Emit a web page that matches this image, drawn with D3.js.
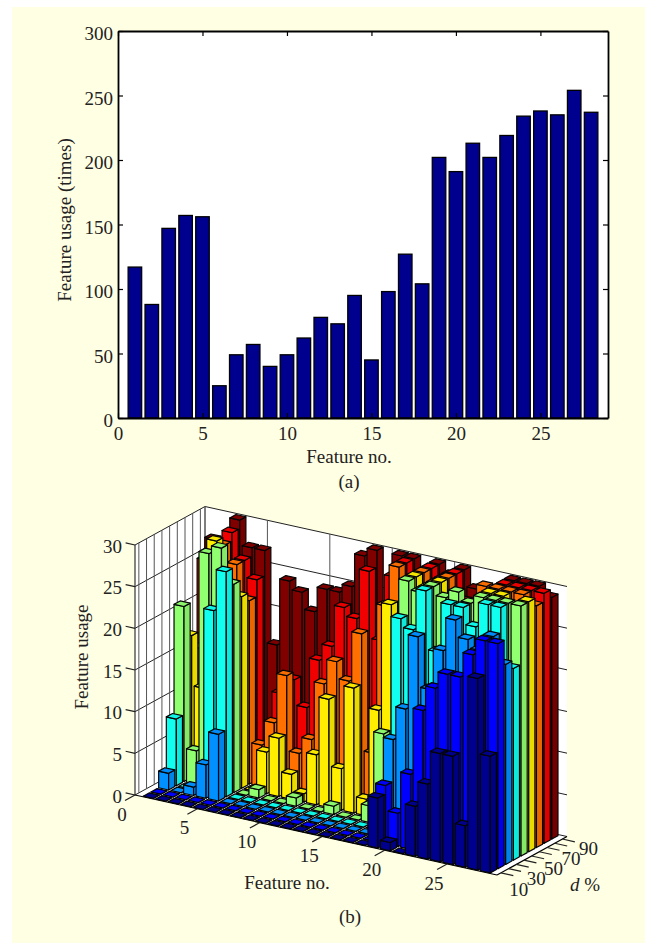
<!DOCTYPE html>
<meta charset="utf-8">
<style>
  html, body { margin: 0; padding: 0; background: #fff; }
  svg { display: block; }
  text { font-family: "Liberation Serif", serif; font-size: 19px; fill: #222; }
</style>
<body>
<script src="https://d3js.org/d3.v7.min.js"></script>
<script>
// total usage per feature, panel (a)
var usage = [117, 88, 147, 157, 156, 25, 49, 57, 40, 49, 62, 78, 73, 95, 45, 98, 127, 104, 202, 191, 213, 202, 219, 234, 238, 235, 254, 237];

// usage per feature for each d %, panel (b)
var dLevels = [10, 20, 30, 40, 50, 60, 70, 80, 90];
var d10 = [0, 0, 0, 0, 0, 0, 0, 0, 0, 0, 0, 0, 0, 0, 0, 0, 0, 0, 6, 1, 0, 6, 9, 13, 13, 5, 23, 14];
var d20 = [0, 0, 0, 0, 0, 0, 0, 0, 0, 0, 0, 0, 0, 0, 0, 0, 0, 0, 7, 4, 9, 17, 20, 22, 22, 25, 27, 27];
var d30 = [2, 0, 1, 4, 8, 0, 0, 0, 0, 0, 0, 0, 0, 0, 0, 0, 0, 0, 12, 16, 25, 19, 24, 28, 26, 25, 27, 24];
var d40 = [8, 0, 0, 22, 27, 0, 0, 0, 0, 0, 0, 0, 0, 0, 0, 0, 0, 0, 26, 25, 30, 23, 29, 29, 27, 30, 30, 23];
var d50 = [21, 4, 28, 29, 25, 0, 1, 0, 0, 1, 0, 0, 1, 0, 0, 2, 11, 0, 30, 29, 30, 29, 30, 29, 30, 30, 30, 30];
var d60 = [17, 11, 29, 23, 23, 0, 5, 7, 3, 1, 6, 13, 5, 15, 2, 13, 26, 22, 30, 29, 30, 27, 27, 28, 30, 30, 29, 30];
var d70 = [15, 25, 28, 26, 22, 5, 8, 14, 5, 7, 14, 17, 15, 21, 7, 25, 30, 28, 30, 29, 30, 27, 27, 30, 30, 30, 30, 29];
var d80 = [25, 24, 29, 26, 24, 4, 11, 13, 10, 16, 18, 23, 22, 28, 20, 28, 30, 27, 30, 29, 30, 27, 27, 27, 30, 30, 30, 30];
var d90 = [27, 24, 30, 27, 27, 16, 24, 23, 21, 24, 24, 25, 29, 30, 16, 30, 30, 27, 30, 29, 30, 28, 26, 28, 30, 30, 30, 29];
var rows = [d10, d20, d30, d40, d50, d60, d70, d80, d90];

var featureTicks = [0, 5, 10, 15, 20, 25];
var usageTicks = [0, 50, 100, 150, 200, 250, 300];
var zTicks = [0, 5, 10, 15, 20, 25, 30];
var dTickLabels = ["10", "", "30", "", "50", "", "70", "", "90"];
var jet = ["#00008f", "#0000ff", "#0090ff", "#10ffef", "#90ff70", "#ffee00", "#ff7000", "#f00000", "#800000"];

var svg = d3.select("body").append("svg").attr("width", 645).attr("height", 943);
svg.append("rect").attr("x", 12).attr("y", 7).attr("width", 633).attr("height", 936).attr("fill", "#ffffe3");

//********* panel (a) ****************
var x = d3.scaleLinear().domain([0, 29]).range([118, 608]);
var y = d3.scaleLinear().domain([0, 300]).range([418, 31]);

svg.append("rect").attr("x", 118).attr("y", 31).attr("width", 490).attr("height", 387).attr("fill", "#fff");

svg.append("g").selectAll("rect")
  .data(usage)
  .enter().append("rect")
  .attr("x", function(d, i) { return x(i + 1 - 0.4); })
  .attr("y", function(d) { return y(d); })
  .attr("width", x(0.8) - x(0))
  .attr("height", function(d) { return y(0) - y(d); })
  .attr("fill", "#00008f")
  .attr("stroke", "#000")
  .attr("stroke-width", 1.3);

function styleAxis(g) {
  g.select(".domain").attr("stroke", "#000").attr("stroke-width", 1.8);
  g.selectAll(".tick line").attr("stroke", "#000").attr("stroke-width", 1.2);
  g.selectAll("text").style("font-size", "19px").style("font-family", "Liberation Serif").attr("fill", "#222");
}

svg.append("g").attr("transform", "translate(0,418)")
  .call(d3.axisBottom(x).tickValues(featureTicks).tickFormat(d3.format("d")).tickSizeInner(-5).tickSizeOuter(0).tickPadding(9))
  .call(styleAxis);
svg.append("g").attr("transform", "translate(0,31)")
  .call(d3.axisTop(x).tickValues(featureTicks).tickFormat("").tickSizeInner(-5).tickSizeOuter(0))
  .call(styleAxis);
svg.append("g").attr("transform", "translate(118,0)")
  .call(d3.axisLeft(y).tickValues(usageTicks).tickFormat(d3.format("d")).tickSizeInner(-5).tickSizeOuter(0).tickPadding(5))
  .call(styleAxis)
  .selectAll("text").attr("dy", "0.45em");
svg.append("g").attr("transform", "translate(608,0)")
  .call(d3.axisRight(y).tickValues(usageTicks).tickFormat("").tickSizeInner(-5).tickSizeOuter(0))
  .call(styleAxis);

svg.append("text").attr("x", 349).attr("y", 463).attr("text-anchor", "middle").text("Feature no.");
svg.append("text").attr("x", 349).attr("y", 488).attr("text-anchor", "middle").text("(a)");
svg.append("text").attr("transform", "translate(71,220) rotate(-90)").attr("text-anchor", "middle").text("Feature usage (times)");

//********* panel (b) ****************
// oblique projection: each data axis gets a screen x scale and a screen y scale
var originX = 135, originY = 795;
var xToSx = d3.scaleLinear().domain([0, 29]).range([0, 362]);
var xToSy = d3.scaleLinear().domain([0, 29]).range([0, 80]);
var yToSx = d3.scaleLinear().domain([0.5, 9.6]).range([0, 70]);
var yToSy = d3.scaleLinear().domain([0.5, 9.6]).range([0, -38.5]);
var zToSy = d3.scaleLinear().domain([0, 30]).range([0, 250]);

function project(px, py, pz) {
  return [originX + xToSx(px) + yToSx(py), originY + xToSy(px) + yToSy(py) - zToSy(pz)];
}
function poly(pts) {
  return "M" + pts.map(function(p) { return project(p[0], p[1], p[2]).join(","); }).join("L") + "Z";
}
function seg(g, a, b, stroke, w) {
  var p = project(a[0], a[1], a[2]), q = project(b[0], b[1], b[2]);
  g.append("line").attr("x1", p[0]).attr("y1", p[1]).attr("x2", q[0]).attr("y2", q[1])
    .attr("stroke", stroke).attr("stroke-width", w);
}

var X0 = 0, X1 = 29, Y0 = 0.5, Y1 = 9.6, Z1 = 30;
var walls = svg.append("g");
walls.append("path").attr("d", poly([[X0, Y0, 0], [X0, Y1, 0], [X0, Y1, Z1], [X0, Y0, Z1]])).attr("fill", "#fff");
walls.append("path").attr("d", poly([[X0, Y1, 0], [X1, Y1, 0], [X1, Y1, Z1], [X0, Y1, Z1]])).attr("fill", "#fff");
walls.append("path").attr("d", poly([[X0, Y0, 0], [X1, Y0, 0], [X1, Y1, 0], [X0, Y1, 0]])).attr("fill", "#fff");

// grid on the two walls
zTicks.forEach(function(z) {
  seg(walls, [X0, Y0, z], [X0, Y1, z], "#222", 1);
  seg(walls, [X0, Y1, z], [X1, Y1, z], "#222", 1);
});
dLevels.forEach(function(d, i) {
  seg(walls, [X0, i + 1, 0], [X0, i + 1, Z1], "#555", 1);
});
featureTicks.forEach(function(f) {
  seg(walls, [f, Y1, 0], [f, Y1, Z1], "#555", 1);
});
seg(walls, [X0, Y0, 0], [X0, Y0, Z1], "#333", 1.2);
seg(walls, [X0, Y1, 0], [X0, Y1, Z1], "#555", 1);

// floor edges
seg(walls, [X0, Y0, 0], [X1, Y0, 0], "#000", 1.2);
seg(walls, [X1, Y0, 0], [X1, Y1, 0], "#000", 1.2);

// ticks and labels
var axes3d = svg.append("g");
zTicks.forEach(function(z) {
  seg(axes3d, [X0, Y0, z], [X0 - 0.75, Y0, z], "#222", 1.2);
  var p = project(X0, Y0, z);
  axes3d.append("text").attr("x", p[0] - 13).attr("y", p[1] + 1).attr("text-anchor", "end").attr("dy", ".35em").text(z);
});
featureTicks.forEach(function(f) {
  seg(axes3d, [f, Y0, 0], [f, Y0 - 1.3, 0], "#222", 1.2);
  var p = project(f, Y0, 0);
  axes3d.append("text").attr("x", p[0] - 13).attr("y", p[1] + 19).attr("text-anchor", "middle").attr("dy", ".35em").text(f);
});
dTickLabels.forEach(function(label, i) {
  seg(axes3d, [X1, i + 1, 0], [X1 + 1, i + 1, 0], "#222", 1.2);
  var p = project(X1, i + 1, 0);
  axes3d.append("text").attr("x", p[0] + 18 + i * 1).attr("y", p[1] + 16 - i * 0.8).attr("text-anchor", "middle").attr("dy", ".35em").text(label);
});

// bars, painted back to front
var bars = svg.append("g").attr("stroke", "#050505").attr("stroke-width", 1.2).attr("stroke-linejoin", "round");
d3.range(8, -1, -1).forEach(function(r) {
  var base = d3.color(jet[r]);
  rows[r].forEach(function(v, i) {
    var f = i + 1, row = r + 1;
    var x0 = f - 0.4, x1 = f + 0.4, y0 = row - 0.4, y1 = row + 0.4;
    bars.append("path").attr("d", poly([[x0, y0, 0], [x1, y0, 0], [x1, y0, v], [x0, y0, v]])).attr("fill", base);
    bars.append("path").attr("d", poly([[x1, y0, 0], [x1, y1, 0], [x1, y1, v], [x1, y0, v]])).attr("fill", base.darker(0.25));
    bars.append("path").attr("d", poly([[x0, y0, v], [x1, y0, v], [x1, y1, v], [x0, y1, v]])).attr("fill", base.darker(0.1));
  });
});

svg.append("text").attr("x", 287).attr("y", 889).attr("text-anchor", "middle").text("Feature no.");
svg.append("text").attr("x", 350).attr("y", 923).attr("text-anchor", "middle").text("(b)");
svg.append("text").attr("transform", "translate(88,657) rotate(-90)").attr("text-anchor", "middle").text("Feature usage");
var dLabel = svg.append("text").attr("x", 570).attr("y", 891);
dLabel.append("tspan").attr("font-style", "italic").text("d");
dLabel.append("tspan").text(" %");
</script>
</body>
